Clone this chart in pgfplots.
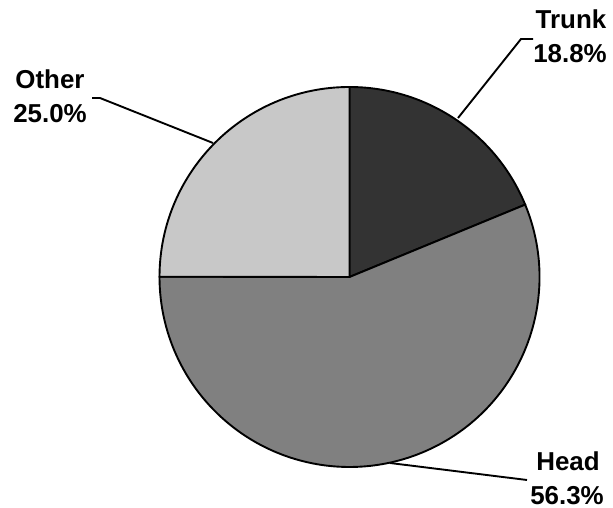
\documentclass[border=0pt]{standalone}
\usepackage{pgfplots}
\usepackage{pgfplotstable}
\pgfplotsset{compat=1.18}
\usepackage{fontspec}
\setmainfont{Liberation Sans}

\definecolor{trunkc}{RGB}{51,51,51}
\definecolor{headc}{RGB}{128,128,128}
\definecolor{otherc}{RGB}{200,200,200}

% slice shares in percent, clockwise from 12 o'clock
\pgfplotstableread{
label pct
Trunk 18.8
Head  56.3
Other 25.0
}\piedata

\pgfplotstablegetelem{0}{pct}\of\piedata \let\pTrunk\pgfplotsretval
\pgfplotstablegetelem{1}{pct}\of\piedata \let\pHead\pgfplotsretval
\pgfplotstablegetelem{2}{pct}\of\piedata \let\pOther\pgfplotsretval
\pgfmathsetmacro\pTot{\pTrunk+\pHead+\pOther}
\pgfmathsetmacro\aA{90}
\pgfmathsetmacro\aB{\aA-\pTrunk/\pTot*360}
\pgfmathsetmacro\aC{\aB-\pHead/\pTot*360}
\pgfmathsetmacro\aD{\aC-\pOther/\pTot*360}

\newcommand\lab{\fontsize{26}{30}\selectfont\bfseries}

\begin{document}
\begin{tikzpicture}
\begin{axis}[
  scale only axis, width=613bp, height=508bp,
  xmin=0, xmax=613, ymin=0, ymax=508,
  hide axis, clip=false,
]
  % wedges, centre (349.5,231), radius 190
  \filldraw[fill=trunkc, line width=1.9pt] (axis cs:349.5,231) -- ++(\aA:190bp)
    arc[start angle=\aA, end angle=\aB, radius=190bp] -- cycle;
  \filldraw[fill=headc, line width=1.9pt] (axis cs:349.5,231) -- ++(\aB:190bp)
    arc[start angle=\aB, end angle=\aC, radius=190bp] -- cycle;
  \filldraw[fill=otherc, line width=1.9pt] (axis cs:349.5,231) -- ++(\aC:190bp)
    arc[start angle=\aC, end angle=\aD, radius=190bp] -- cycle;

  % leader lines
  \addplot[black, line width=1.9pt, mark=none] coordinates {(458,390) (521,469) (533,469)};
  \addplot[black, line width=1.9pt, mark=none] coordinates {(213,365) (100,410) (92,410)};
  \addplot[black, line width=1.9pt, mark=none] coordinates {(390,45) (527,28)};

  % labels
  \node[anchor=base, inner sep=0pt] at (axis cs:571,479) {\lab Trunk};
  \node[anchor=base, inner sep=0pt] at (axis cs:570,445) {\lab 18.8\%};
  \node[anchor=base, inner sep=0pt] at (axis cs:50,419) {\lab Other};
  \node[anchor=base, inner sep=0pt] at (axis cs:50,385) {\lab 25.0\%};
  \node[anchor=base, inner sep=0pt] at (axis cs:568,37) {\lab Head};
  \node[anchor=base, inner sep=0pt] at (axis cs:567,4) {\lab 56.3\%};
\end{axis}
\pgfresetboundingbox
\path (0,0) rectangle (613bp,508bp);
\end{tikzpicture}
\end{document}
